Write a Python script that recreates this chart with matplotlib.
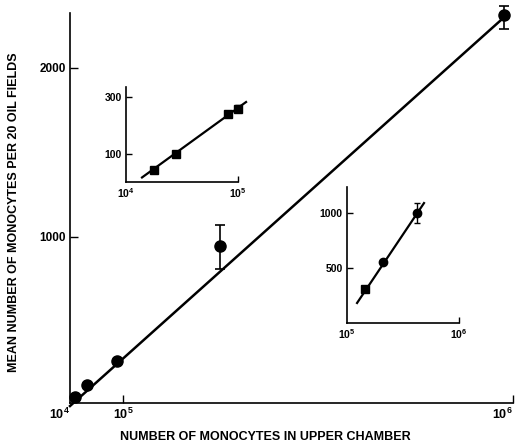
import matplotlib
matplotlib.use('Agg')
import matplotlib.pyplot as plt

plt.rcParams['font.family'] = 'Liberation Sans'
plt.rcParams['font.weight'] = 'bold'
plt.rcParams['mathtext.fontset'] = 'custom'
plt.rcParams['mathtext.rm'] = 'Liberation Sans:bold'
plt.rcParams['mathtext.it'] = 'Liberation Sans:bold'
plt.rcParams['mathtext.bf'] = 'Liberation Sans:bold'

# main plot: cells in upper chamber vs mean monocytes per 20 oil fields
main_x = [1.1e4, 3.8e4, 1.06e5, 3.39e5, 9.8e5]
main_y = [53, 124, 266, 947, 2314]
main_err_lo = [0, 0, 0, 136, 83]
main_err_hi = [0, 0, 0, 124, 53]
main_line_x = [0, 9.8e5]
main_line_y = [0, 2300]
main_xticks = [0, 1.2e5, 1e6]
main_xlabels = [r'$10^{4}$', r'$10^{5}$', r'$10^{6}$']
main_yticks = [1000, 2000]

# inset 1: 10^4 - 10^5
in1_x = [1.79e4, 2.82e4, 8.1e4, 1.0e5]
in1_y = [44, 100, 240, 258]
in1_err = [0, 0, 0, 12]
in1_line_x = [1.39e4, 1.18e5]
in1_line_y = [16, 282]
in1_yticks = [100, 300]

# inset 2: 10^5 - 10^6
in2_x = [1.45e5, 2.1e5, 4.2e5]
in2_y = [309, 555, 1000]
in2_err = [0, 0, 90]
in2_line_x = [1.23e5, 4.87e5]
in2_line_y = [182, 1090]
in2_yticks = [500, 1000]

W, H = 520, 445
fig = plt.figure(figsize=(5.2, 4.45), dpi=100)


def box(l, t, r, b):
    return [l / W, 1 - b / H, (r - l) / W, (b - t) / H]


def style(ax):
    ax.spines['top'].set_visible(False)
    ax.spines['right'].set_visible(False)
    for s in ['left', 'bottom']:
        ax.spines[s].set_linewidth(1.2)
    ax.tick_params(direction='in', length=6, width=1.0, pad=3, labelsize=8)
    ax.minorticks_off()
    ax.patch.set_alpha(0)


# main axes
ax = fig.add_axes(box(70, 13, 513, 403))
style(ax)
ax.plot(main_line_x, main_line_y, color='black', lw=1.8, clip_on=False)
ax.errorbar(main_x, main_y, yerr=[main_err_lo, main_err_hi], fmt='o', color='black',
            ms=8, elinewidth=1.2, capsize=3.5, capthick=1.2, clip_on=False)
ax.set_xlim(0, 1e6)
ax.set_ylim(18, 2325)
ax.set_xticks(main_xticks)
ax.set_xticklabels(main_xlabels, fontsize=9)
ax.xaxis.get_major_ticks()[0].tick1line.set_visible(False)
ax.get_xticklabels()[0].set_horizontalalignment('right')
ax.get_xticklabels()[2].set_horizontalalignment('right')
ax.set_yticks(main_yticks)
ax.set_yticklabels([str(v) for v in main_yticks], fontsize=8.5)
fig.text(265 / W, 1 - 437 / H, 'NUMBER OF MONOCYTES IN UPPER CHAMBER',
         ha='center', va='center', fontsize=9, fontweight='bold')
fig.text(14 / W, 1 - 212 / H, 'MEAN NUMBER OF MONOCYTES PER 20 OIL FIELDS',
         ha='center', va='center', rotation=90, fontsize=9, fontweight='bold')

# inset 1
ax1 = fig.add_axes(box(126, 87, 238, 182))
style(ax1)
ax1.set_xscale('log')
ax1.plot(in1_line_x, in1_line_y, color='black', lw=1.6, clip_on=False)
ax1.errorbar(in1_x, in1_y, yerr=in1_err, fmt='s', color='black', ms=5.5,
             elinewidth=1.0, capsize=2.5, clip_on=False)
ax1.set_xlim(1e4, 1e5)
ax1.set_ylim(0, 335)
ax1.set_xticks([1e4, 1e5])
ax1.set_xticklabels([r'$10^{4}$', r'$10^{5}$'], fontsize=7.5)
ax1.minorticks_off()
ax1.xaxis.get_major_ticks()[0].tick1line.set_visible(False)
ax1.set_yticks(in1_yticks)
ax1.set_yticklabels([str(v) for v in in1_yticks], fontsize=7.5)
ax1.tick_params(length=4)

# inset 2
ax2 = fig.add_axes(box(347, 187, 459, 323))
style(ax2)
ax2.set_xscale('log')
ax2.plot(in2_line_x, in2_line_y, color='black', lw=1.6, clip_on=False)
ax2.errorbar(in2_x[:1], in2_y[:1], fmt='s', color='black', ms=5.5, clip_on=False)
ax2.errorbar(in2_x[1:], in2_y[1:], yerr=in2_err[1:], fmt='o', color='black', ms=6,
             elinewidth=1.0, capsize=2.5, clip_on=False)
ax2.set_xlim(1e5, 1e6)
ax2.set_ylim(0, 1236)
ax2.set_xticks([1e5, 1e6])
ax2.set_xticklabels([r'$10^{5}$', r'$10^{6}$'], fontsize=7.5)
ax2.minorticks_off()
ax2.xaxis.get_major_ticks()[0].tick1line.set_visible(False)
ax2.set_yticks(in2_yticks)
ax2.set_yticklabels([str(v) for v in in2_yticks], fontsize=7.5)
ax2.tick_params(length=4)

fig.savefig('out.png', dpi=100)
